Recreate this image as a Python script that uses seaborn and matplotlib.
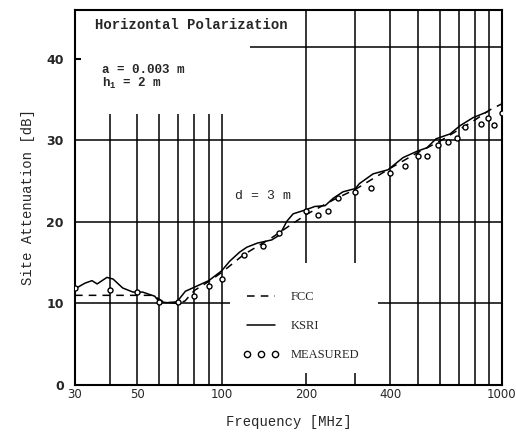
import matplotlib
matplotlib.use("Agg")
import matplotlib.pyplot as plt
import seaborn as sns
import pandas as pd
from matplotlib.lines import Line2D

# values
ksri_freq = [30, 32.6, 34.5, 36, 39, 41, 44.4, 48.3, 52.3, 55.4, 57.7, 60, 64, 69.3, 74.3,
             80, 90, 100, 107, 116, 123, 134, 151, 161, 171, 180, 200, 215, 234, 250, 271,
             300, 310, 347, 392, 444, 500, 540, 582, 653, 708, 789, 885]
ksri_db = [11.8, 12.5, 12.8, 12.4, 13.2, 13.0, 11.9, 11.4, 11.4, 11.1, 10.9, 10.2, 10.1, 10.2, 11.5,
           12.0, 12.8, 14.0, 15.2, 16.3, 16.9, 17.4, 17.8, 18.4, 20.1, 21.0, 21.5, 21.9, 22.0, 22.9, 23.7,
           24.1, 24.7, 25.9, 26.4, 27.9, 28.7, 29.1, 30.2, 30.8, 31.8, 32.8, 33.5]

fcc_freq = [30, 40, 50, 57, 62, 70, 74, 80, 90, 100, 120, 150, 200, 250, 300, 400, 500,
            600, 700, 800, 900, 1000]
fcc_db = [11.0, 11.0, 11.0, 11.0, 10.2, 10.0, 10.3, 11.6, 12.7, 13.8, 16.0, 18.0, 20.9, 22.7,
          24.0, 26.6, 28.5, 29.9, 31.3, 32.5, 33.7, 34.5]

meas_freq = [30, 40, 50, 60, 70, 80, 90, 100, 120, 140, 160, 200, 220, 240, 260, 300, 340,
             400, 450, 500, 540, 590, 640, 690, 740, 840, 890, 940, 1000]
meas_db = [11.9, 11.7, 11.4, 10.2, 10.2, 10.9, 12.1, 13.0, 16.0, 17.1, 18.6, 21.3, 20.8, 21.4,
           22.9, 23.7, 24.2, 26.0, 26.9, 28.1, 28.1, 29.4, 29.8, 30.3, 31.6, 32.0, 32.7, 31.9, 33.4]

xtick_vals = [30, 50, 100, 200, 400, 1000]
ytick_vals = [0, 10, 20, 30, 40]

# partial grid lines as drawn on the original
full_vlines = [400, 500, 600, 700, 800, 900]
low_vlines = [40, 50, 60, 70, 80, 90, 100]
split_vlines = [200, 300]

ksri = pd.DataFrame({"f": ksri_freq, "db": ksri_db})
fcc = pd.DataFrame({"f": fcc_freq, "db": fcc_db})
meas = pd.DataFrame({"f": meas_freq, "db": meas_db})

sns.set_theme(style="white")
plt.rcParams["mathtext.fontset"] = "custom"
plt.rcParams["mathtext.rm"] = "Liberation Mono:bold"

fig = plt.figure(figsize=(5.16, 4.34), dpi=100)
ax = fig.add_axes([0.1453, 0.1129, 0.8275, 0.864])
ax.set_xscale("log")
ax.set_xlim(30, 1000)
ax.set_ylim(0, 46)

# grid
gkw = dict(color="black", lw=1.1, zorder=1)
ax.vlines(full_vlines, 0, 46, **gkw)
ax.vlines(low_vlines, 0, 33.3, **gkw)
ax.vlines(split_vlines, 15, 46, **gkw)
ax.vlines(split_vlines, 0, 1.5, **gkw)
ax.hlines(30, 30, 1000, **gkw)
ax.hlines(20, 30, 1000, **gkw)
ax.hlines(10, 30, 107, **gkw)
ax.hlines(10, 361, 1000, **gkw)
ax.hlines(41.5, 126, 1000, **gkw)
ax.hlines(40, 30, 31.6, color="black", lw=1.5)

sns.lineplot(data=fcc, x="f", y="db", ax=ax, color="black", lw=1.1,
             linestyle=(0, (5, 4)), zorder=3)
sns.lineplot(data=ksri, x="f", y="db", ax=ax, color="black", lw=1.1, zorder=3)
sns.scatterplot(data=meas, x="f", y="db", ax=ax, s=13, marker="o",
                facecolor="white", edgecolor="black", linewidth=1.0, zorder=4)

ax.set_xticks(xtick_vals)
ax.set_xticklabels([str(v) for v in xtick_vals], fontsize=8.5, family="DejaVu Sans")
ax.minorticks_off()
ax.set_yticks(ytick_vals)
ax.set_yticklabels([str(v) for v in ytick_vals], fontsize=9, fontweight="bold",
                   family="DejaVu Sans")
ax.tick_params(axis="x", length=0, pad=2)
ax.tick_params(axis="y", length=0, pad=8)

for s in ax.spines.values():
    s.set_color("black")
    s.set_linewidth(1.5)

ax.set_xlabel("Frequency [MHz]", family="Liberation Mono", fontsize=10, labelpad=10)
ax.set_ylabel("Site Attenuation [dB]", family="Liberation Mono", fontsize=10, labelpad=8)

tkw = dict(transform=ax.transAxes, family="Liberation Mono", fontweight="bold", va="center")
ax.text(0.047, 0.96, "Horizontal Polarization", fontsize=10, **tkw)
ax.text(0.063, 0.84, "a = 0.003 m", fontsize=9, **tkw)
ax.text(0.063, 0.805, r"h$_\mathrm{1}$ = 2 m", fontsize=9, **tkw)
ax.text(0.375, 0.504, "d = 3 m", transform=ax.transAxes, family="Liberation Mono",
        fontsize=9.5, va="center")

handles = [
    Line2D([], [], color="black", lw=1.1, linestyle=(0, (5, 4))),
    Line2D([], [], color="black", lw=1.1),
    Line2D([], [], color="black", linestyle="none", marker="o", markersize=4.5,
           markerfacecolor="white", markeredgewidth=1.0),
]
ax.legend(handles, ["FCC", "KSRI", "MEASURED"], loc="upper left",
          bbox_to_anchor=(0.395, 0.25), frameon=False, numpoints=3,
          handlelength=2.8, handletextpad=1.0, labelspacing=1.35, borderpad=0,
          borderaxespad=0, prop={"family": "Liberation Serif", "size": 9})

fig.savefig("out.png", dpi=100)
